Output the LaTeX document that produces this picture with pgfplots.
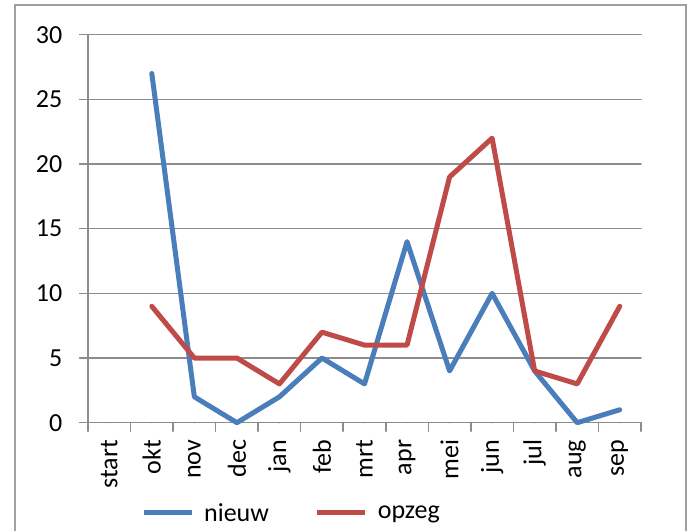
\documentclass[border=0pt]{standalone}
\usepackage{pgfplots}
\pgfplotsset{compat=1.18}
\usepackage{fontspec}
\setmainfont{Carlito}
\definecolor{nblue}{HTML}{4A7EBB}
\definecolor{ored}{HTML}{BE4B48}
\definecolor{gridgray}{HTML}{8C8C8C}
\definecolor{framegray}{HTML}{A0A0A0}
\begin{document}
\begin{tikzpicture}[x=1pt,y=1pt]
\clip (0,0) rectangle (700,530);
\draw[framegray, line width=1.5pt] (15,-20) -- (15,525) -- (686,525) -- (686,-20);
\begin{axis}[
  at={(88pt,107.3pt)}, anchor=south west,
  scale only axis, width=553pt, height=388pt,
  xmin=-0.5, xmax=12.5, ymin=0, ymax=30,
  axis lines=left, axis line style={gridgray, line width=1.5pt, -},
  ytick={0,5,...,30},
  ymajorgrids, grid style={gridgray, line width=1.5pt},
  xtick={-0.5,0.5,...,12.5}, xticklabels={},
  tick align=outside, major tick length=8.5pt,
  tick style={gridgray, line width=1.5pt},
  extra x ticks={0,...,12},
  extra x tick labels={start,okt,nov,dec,jan,feb,mrt,apr,mei,jun,jul,aug,sep},
  extra x tick style={major tick length=0pt, xticklabel style={rotate=90, anchor=east, inner sep=0pt}},
  xticklabel shift=17pt,
  yticklabel style={anchor=east, inner sep=0pt},
  yticklabel shift=17pt,
  /pgf/number format/assume math mode=true,
  tick label style={font=\fontsize{26}{31}\selectfont},
  clip=false,
  legend columns=2,
  legend style={draw=none, fill=none, at={(0.3644,-0.2327)}, anchor=center, inner sep=0pt,
    nodes={inner sep=0pt},
    font=\fontsize{26}{31}\selectfont, /tikz/every even column/.append style={column sep=44pt}},
  legend image code/.code={\draw[#1] (2pt,0pt) -- (50pt,0pt); \path (0pt,0pt) (60pt,0pt);},
  line join=round, line cap=round,
]
\addplot[nblue, line width=5pt] coordinates {(1,27) (2,2) (3,0) (4,2) (5,5) (6,3) (7,14) (8,4) (9,10) (10,4) (11,0) (12,1)};
\addlegendentry{nieuw}
\addplot[ored, line width=5pt] coordinates {(1,9) (2,5) (3,5) (4,3) (5,7) (6,6) (7,6) (8,19) (9,22) (10,4) (11,3) (12,9)};
\addlegendentry{opzeg}
\end{axis}
\end{tikzpicture}
\end{document}
